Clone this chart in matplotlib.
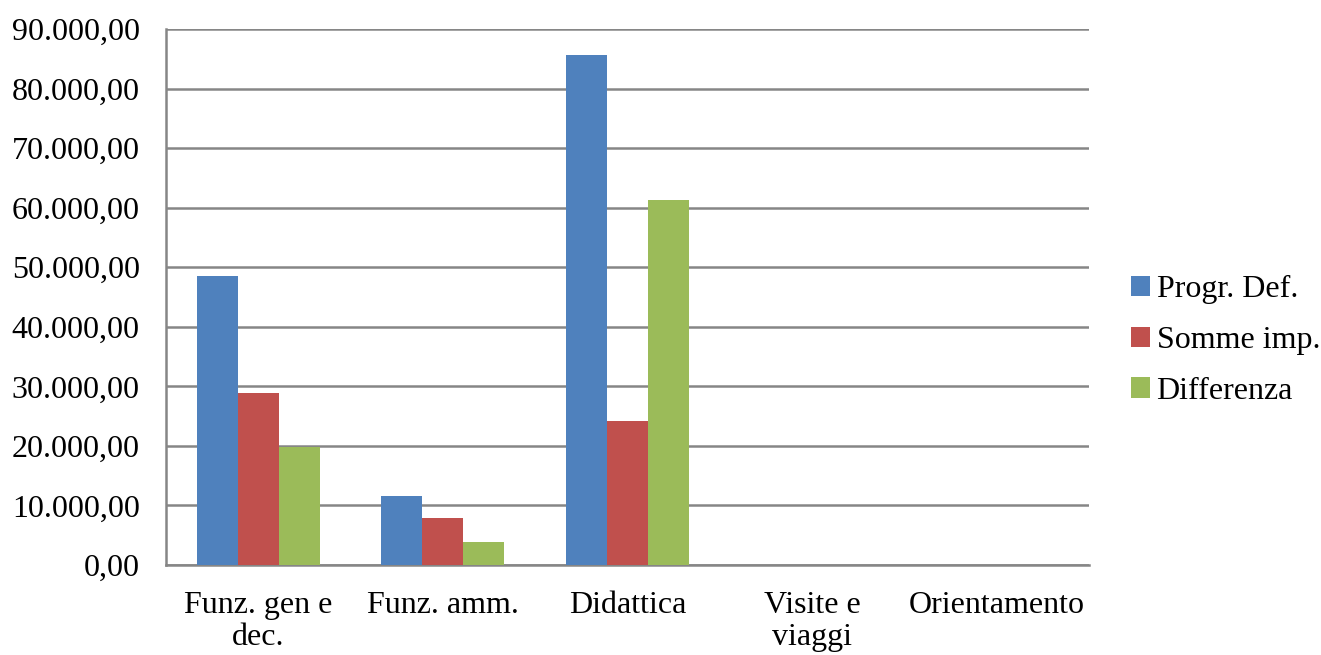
import numpy as np
import matplotlib
matplotlib.use('Agg')
import matplotlib.pyplot as plt
from matplotlib.ticker import FuncFormatter

categories = ['Funz. gen e\ndec.', 'Funz. amm.', 'Didattica', 'Visite e\nviaggi', 'Orientamento']
progr_def = [48600, 11650, 85650, 0, 0]
somme_imp = [28850, 7850, 24250, 0, 0]
differenza = [19750, 3800, 61300, 0, 0]
series_names = ['Progr. Def.', 'Somme imp.', 'Differenza']
colors = ['#4F81BD', '#C0504D', '#9BBB59']

plt.rcParams['font.family'] = ['Liberation Serif', 'DejaVu Serif']

fig = plt.figure(figsize=(13.21, 6.55), dpi=100)
ax = fig.add_axes([0.1257, 0.1374, 0.6987, 0.8183])

x = np.arange(len(categories))
w = 0.222
for i, (vals, name) in enumerate(zip([progr_def, somme_imp, differenza], series_names)):
    ax.bar(x + (i - 1) * w, vals, width=w, color=colors[i], label=name, zorder=3)

ax.set_xlim(-0.5, len(categories) - 0.5)
ax.set_ylim(0, 90000)
ax.set_yticks(np.arange(0, 90001, 10000))
ax.yaxis.set_major_formatter(FuncFormatter(
    lambda v, p: '{:,.2f}'.format(v).replace(',', 'X').replace('.', ',').replace('X', '.')))
ax.set_xticks(x)
ax.set_xticklabels(categories, linespacing=1.1)
ax.tick_params(axis='both', length=0, labelsize=23)
ax.tick_params(axis='y', pad=19)
ax.tick_params(axis='x', pad=19)

ax.grid(axis='y', color='#868686', linewidth=1.8, zorder=0)
for s in ['top', 'right']:
    ax.spines[s].set_visible(False)
for s in ['left', 'bottom']:
    ax.spines[s].set_color('#868686')
    ax.spines[s].set_linewidth(1.8)

fig.legend(loc='center left', bbox_to_anchor=(0.8465, 0.480), frameon=False,
           fontsize=23, handlelength=0.6, handleheight=0.6, handletextpad=0.2,
           labelspacing=0.68, borderaxespad=0)

fig.savefig('out.png', dpi=100)
